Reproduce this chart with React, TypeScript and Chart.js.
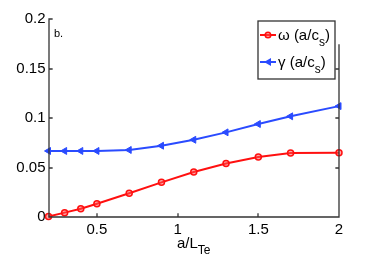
import React, { useEffect, useRef } from "react";
import { Chart, registerables } from "chart.js";

Chart.register(...registerables);

const xValues = [0.2, 0.3, 0.4, 0.5, 0.7, 0.9, 1.1, 1.3, 1.5, 1.7, 2.0];
const omega = [0.0005, 0.0044, 0.0084, 0.0134, 0.024, 0.035, 0.0455, 0.054, 0.0606, 0.0646, 0.065];
const gamma = [0.0667, 0.0667, 0.0667, 0.0667, 0.0677, 0.072, 0.078, 0.0855, 0.0939, 0.1017, 0.112];
const xTicks = [0.5, 1, 1.5, 2];
const yTicks = [0, 0.05, 0.1, 0.15, 0.2];
const xTickLabels = ["0.5", "1", "1.5", "2"];
const yTickLabels = ["0", "0.05", "0.1", "0.15", "0.2"];

const RED = "#ff1010";
const BLUE = "#2a4bff";
const FONT = "'Liberation Sans', Arial, sans-serif";

const framePlugin = {
  id: "frame",
  afterDraw(chart: any) {
    const ctx = chart.ctx;
    const { left, right, top, bottom } = chart.chartArea;
    const xs = chart.scales.x;
    const ys = chart.scales.y;
    const L = Math.round(left);
    const R = Math.round(right);
    const T = Math.round(top);
    const B = Math.round(bottom);
    ctx.save();
    ctx.strokeStyle = "#333";
    ctx.lineWidth = 1.3;
    ctx.lineCap = "square";
    ctx.beginPath();
    ctx.moveTo(L, T);
    ctx.lineTo(L, B);
    ctx.lineTo(R, B);
    ctx.moveTo(R, B);
    ctx.lineTo(R, T + 26);
    xTicks.forEach((v) => {
      const px = Math.round(xs.getPixelForValue(v));
      ctx.moveTo(px, B);
      ctx.lineTo(px, B - 3);
    });
    yTicks.forEach((v) => {
      const py = Math.round(ys.getPixelForValue(v));
      ctx.moveTo(L, py);
      ctx.lineTo(L + 3, py);
      if (py > T + 26) {
        ctx.moveTo(R, py);
        ctx.lineTo(R - 3, py);
      }
    });
    ctx.stroke();

    // "b." label
    ctx.fillStyle = "#000";
    ctx.font = `11px ${FONT}`;
    ctx.textAlign = "left";
    ctx.textBaseline = "alphabetic";
    ctx.fillText("b.", L + 5, T + 18);

    // x-axis title
    ctx.font = `15px ${FONT}`;
    const main = "a/L";
    const sub = "Te";
    const mw = ctx.measureText(main).width;
    ctx.font = `12px ${FONT}`;
    const sw = ctx.measureText(sub).width;
    const cx = (left + right) / 2;
    const sx = cx - (mw + sw) / 2;
    ctx.font = `15px ${FONT}`;
    ctx.fillText(main, sx, 248);
    ctx.font = `12px ${FONT}`;
    ctx.fillText(sub, sx + mw, 254);

    // legend
    const lx = 258, ly = 21, lw = 77, lh = 58;
    ctx.fillStyle = "#fff";
    ctx.fillRect(lx, ly, lw, lh);
    ctx.strokeStyle = "#333";
    ctx.lineWidth = 1.3;
    ctx.strokeRect(lx, ly, lw, lh);
    const items = [
      { sym: "ω", color: RED, y: 35, marker: "circle" },
      { sym: "γ", color: BLUE, y: 62, marker: "tri" },
    ];
    items.forEach((it) => {
      ctx.strokeStyle = it.color;
      ctx.fillStyle = it.color;
      ctx.lineWidth = 2;
      ctx.beginPath();
      ctx.moveTo(261, it.y);
      ctx.lineTo(275, it.y);
      ctx.stroke();
      if (it.marker === "circle") {
        ctx.lineWidth = 1.5;
        ctx.fillStyle = "rgba(255,80,80,0.5)";
        ctx.beginPath();
        ctx.arc(268, it.y, 2.8, 0, Math.PI * 2);
        ctx.fill();
        ctx.stroke();
      } else {
        ctx.beginPath();
        ctx.moveTo(264, it.y);
        ctx.lineTo(271, it.y - 4);
        ctx.lineTo(271, it.y + 4);
        ctx.closePath();
        ctx.fill();
      }
      ctx.fillStyle = "#000";
      ctx.font = `15px ${FONT}`;
      const t1 = `${it.sym} (a/c`;
      ctx.fillText(t1, 278, it.y + 5);
      const w1 = ctx.measureText(t1).width;
      ctx.font = `12px ${FONT}`;
      ctx.fillText("s", 278 + w1, it.y + 11);
      const w2 = ctx.measureText("s").width;
      ctx.font = `15px ${FONT}`;
      ctx.fillText(")", 278 + w1 + w2, it.y + 5);
    });
    ctx.restore();
  },
};

export default function App() {
  const ref = useRef<HTMLCanvasElement>(null);
  useEffect(() => {
    document.body.style.margin = "0";
    const chart = new Chart(ref.current!, {
      type: "line",
      data: {
        datasets: [
          {
            label: "ω (a/c_s)",
            data: xValues.map((x, i) => ({ x, y: omega[i] })),
            borderColor: RED,
            backgroundColor: "rgba(255,80,80,0.5)",
            borderWidth: 2,
            pointRadius: 3,
            pointBorderWidth: 1.5,
            pointStyle: "circle",
            tension: 0,
            clip: false,
          },
          {
            label: "γ (a/c_s)",
            data: xValues.map((x, i) => ({ x, y: gamma[i] })),
            borderColor: BLUE,
            backgroundColor: BLUE,
            borderWidth: 2,
            pointRadius: 4,
            pointBorderWidth: 1,
            pointStyle: "triangle",
            pointRotation: -90,
            tension: 0,
            clip: false,
          },
        ],
      },
      options: {
        animation: false,
        responsive: false,
        devicePixelRatio: 1,
        layout: { padding: { top: 19, right: 35, left: 0, bottom: 0 } },
        plugins: { legend: { display: false }, tooltip: { enabled: false } },
        scales: {
          x: {
            type: "linear",
            min: 0.2,
            max: 2,
            grid: { display: false, drawTicks: false },
            border: { display: false },
            afterBuildTicks: (s: any) => {
              s.ticks = xTicks.map((v) => ({ value: v }));
            },
            afterFit: (s: any) => {
              s.height = 41;
            },
            ticks: {
              autoSkip: false,
              maxRotation: 0,
              padding: 4,
              color: "#000",
              font: { family: FONT, size: 15 },
              callback: (v: any) => {
                const i = xTicks.indexOf(Number(v));
                return i >= 0 ? xTickLabels[i] : "";
              },
            },
          },
          y: {
            type: "linear",
            min: 0,
            max: 0.2,
            grid: { display: false, drawTicks: false },
            border: { display: false },
            afterBuildTicks: (s: any) => {
              s.ticks = yTicks.map((v) => ({ value: v }));
            },
            afterFit: (s: any) => {
              s.width = 48.5;
            },
            ticks: {
              autoSkip: false,
              padding: 3,
              color: "#000",
              font: { family: FONT, size: 15 },
              callback: (v: any) => {
                const i = yTicks.findIndex((t) => Math.abs(t - Number(v)) < 1e-9);
                return i >= 0 ? yTickLabels[i] : "";
              },
            },
          },
        },
      },
      plugins: [framePlugin],
    });
    return () => chart.destroy();
  }, []);
  return <canvas ref={ref} width={374} height={258} style={{ display: "block" }} />;
}
